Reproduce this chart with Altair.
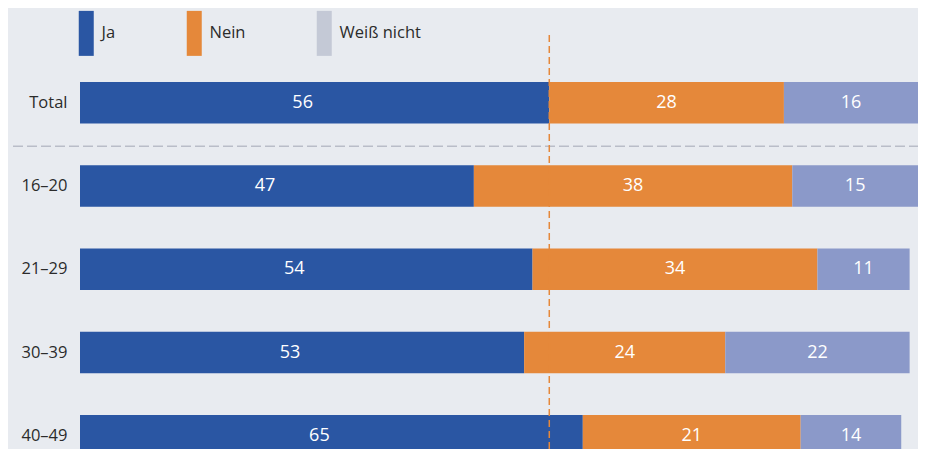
import altair as alt
import pandas as pd

groups = ["Total", "16–20", "21–29", "30–39", "40–49"]
answers = ["Ja", "Nein", "Weiß nicht"]

# printed shares
ja_labels = [56, 47, 54, 53, 65]
nein_labels = [28, 38, 34, 24, 21]
dk_labels = [16, 15, 11, 22, 14]

# segment lengths as drawn in the reference (row 40–49 is drawn about 60/26/12)
ja_drawn = [56, 47, 54, 53, 60]
nein_drawn = [28, 38, 34, 24, 26]
dk_drawn = [16, 15, 11, 22, 12]

reference_ja = [56]  # Total "Ja" share, marked by the dashed line

bar_colors = ["#2a56a3", "#e5883a", "#8b99c9"]
legend_colors = ["#2a56a3", "#e5883a", "#c4c9d6"]

rows = []
for i, g in enumerate(groups):
    for k, (a, lab, ln) in enumerate(zip(
            answers,
            [ja_labels[i], nein_labels[i], dk_labels[i]],
            [ja_drawn[i], nein_drawn[i], dk_drawn[i]])):
        rows.append({"group": g, "answer": a, "order": k, "label": lab, "length": ln})
df = pd.DataFrame(rows)

FONT = "Open Sans"
W, H = 838, 441
x_scale = alt.Scale(domain=[0, 100], nice=False, zero=True)
y_scale = alt.Scale(domain=groups, range=[74, 448.6], paddingInner=0.5, paddingOuter=0)
y_enc = alt.Y(
    "group:N", sort=groups, scale=y_scale,
    axis=alt.Axis(title=None, domain=False, ticks=False, grid=False,
                  labelPadding=13, labelFontSize=16.5, labelFont=FONT,
                  labelColor="#2b2b2b"),
)

stacked = (
    alt.Chart(df)
    .transform_stack(stack="length", as_=["x0", "x1"], groupby=["group"],
                     sort=[alt.SortField("order")])
    .transform_calculate(mid="(datum.x0 + datum.x1) / 2")
)

bars = stacked.mark_bar(strokeWidth=0).encode(
    x=alt.X("x0:Q", scale=x_scale, axis=None),
    x2="x1:Q",
    y=y_enc,
    fill=alt.Fill("answer:N", scale=alt.Scale(range=bar_colors), legend=None),
)

text_enc = dict(
    x=alt.X("mid:Q", scale=x_scale, axis=None),
    y=y_enc,
    text=alt.Text("label:Q"),
)
texts_ja = stacked.transform_filter("datum.answer == 'Ja'").mark_text(
    color="white", fontSize=18, font=FONT, dx=-12
).encode(**text_enc)
texts_rest = stacked.transform_filter("datum.answer != 'Ja'").mark_text(
    color="white", fontSize=18, font=FONT
).encode(**text_enc)

legend_layer = alt.Chart(df).mark_rect(strokeWidth=0).encode(
    x=alt.value(0), x2=alt.value(0), y=alt.value(0), y2=alt.value(0),
    color=alt.Color(
        "answer:N",
        scale=alt.Scale(domain=answers, range=legend_colors),
        legend=alt.Legend(
            title=None, orient="none", legendX=-2, legendY=17,
            direction="horizontal", symbolType="M-1,-3H1V3H-1Z", symbolSize=225,
            symbolStrokeWidth=0, labelFontSize=16.5, labelFont=FONT,
            labelColor="#2b2b2b", labelOffset=7, columnPadding=70, padding=0,
        ),
    ),
)

vrule = alt.Chart(pd.DataFrame({"v": reference_ja})).mark_rule(
    color="#e5883a", strokeDash=[7, 4], strokeWidth=1.5
).encode(
    x=alt.X("v:Q", scale=x_scale, axis=None),
    y=alt.value(27),
    y2=alt.value(H),
)

hrule = alt.Chart(pd.DataFrame({"group": [groups[1]]})).mark_rule(
    color="#b9bdc8", strokeDash=[10, 4], strokeWidth=1.3, yOffset=-19
).encode(
    y=alt.Y("group:N", scale=y_scale, bandPosition=0, sort=groups),
    x=alt.value(-67),
    x2=alt.value(W),
)

chart = (
    alt.layer(hrule, bars, texts_ja, texts_rest, legend_layer, vrule)
    .properties(
        width=W, height=H,
        autosize=alt.AutoSizeParams(type="none"),
        padding={"left": 72, "top": 0, "right": 0, "bottom": 0},
    )
    .configure(background="#e8ebf0")
    .configure_view(stroke=None)
)

chart.save("out.html", embed_options={"renderer": "svg", "actions": False})
